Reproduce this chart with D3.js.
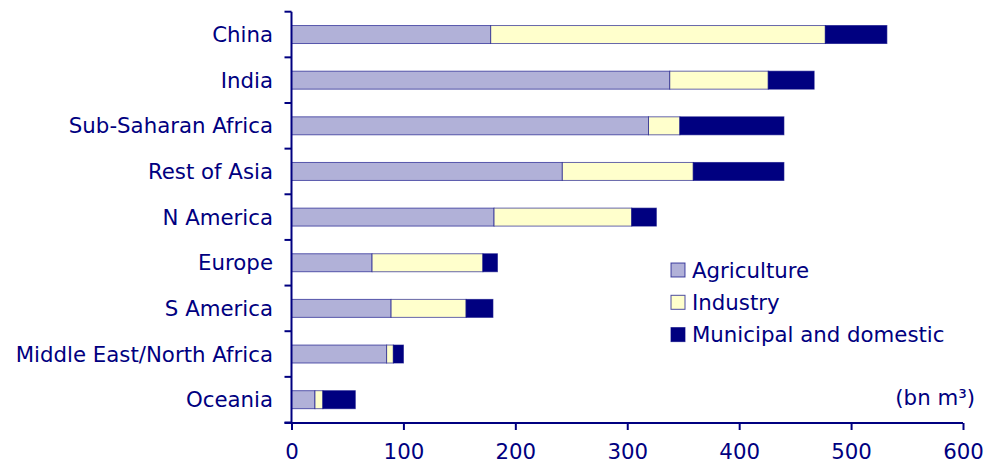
<!DOCTYPE html>
<html>
<head>
<meta charset="utf-8">
<script src="https://cdn.jsdelivr.net/npm/d3@7"></script>
<style>
  html, body { margin: 0; padding: 0; background: #fff; }
  svg text { font-family: "DejaVu Sans", Verdana, sans-serif; fill: #000080; }
</style>
</head>
<body>
<svg id="chart" width="995" height="465"></svg>
<script>
// Water withdrawals by region and sector (bn m³)
const regions = ["China", "India", "Sub-Saharan Africa", "Rest of Asia", "N America",
                 "Europe", "S America", "Middle East/North Africa", "Oceania"];
const agriculture = [178, 338, 319, 242, 181, 72, 89, 85, 21];
const industry    = [299,  88,  28, 117, 123, 99, 67,  6,  7];
const municipal   = [ 55,  41,  93,  81,  22, 13, 24,  9, 29];
const seriesNames = ["Agriculture", "Industry", "Municipal and domestic"];
const seriesColors = ["#b1b1d8", "#ffffcc", "#000080"];
const xTicks = [0, 100, 200, 300, 400, 500, 600];
const unitLabel = "(bn m³)";

const svg = d3.select("#chart");
const navy = "#000080";
const fontSize = 21.3;

const x = d3.scaleLinear().domain([0, 600]).range([291.5, 963]);
const y = d3.scaleBand().domain(regions).range([11.7, 422.5])
  .paddingInner(0.606).paddingOuter(0.303);

const rows = regions.map((r, i) => ({
  region: r,
  Agriculture: agriculture[i],
  Industry: industry[i],
  "Municipal and domestic": municipal[i]
}));
const stacked = d3.stack().keys(seriesNames)(rows);

// stacked bars
svg.append("g").selectAll("g")
  .data(stacked)
  .join("g")
  .attr("fill", (d, i) => seriesColors[i])
  .selectAll("rect")
  .data(d => d)
  .join("rect")
  .attr("x", d => x(d[0]))
  .attr("y", d => y(d.data.region))
  .attr("width", d => x(d[1]) - x(d[0]))
  .attr("height", y.bandwidth())
  .attr("stroke", navy)
  .attr("stroke-opacity", 0.6)
  .attr("stroke-width", 1);

// y axis: line, boundary ticks, labels
const yAxis = svg.append("g");
const step = y.step();
const y0 = y.range()[0];
yAxis.append("line")
  .attr("x1", x(0)).attr("x2", x(0))
  .attr("y1", y0).attr("y2", y.range()[1])
  .attr("stroke", navy).attr("stroke-width", 2);
yAxis.selectAll("line.tick")
  .data(d3.range(regions.length + 1))
  .join("line")
  .attr("class", "tick")
  .attr("x1", x(0) - 7).attr("x2", x(0))
  .attr("y1", i => y0 + i * step).attr("y2", i => y0 + i * step)
  .attr("stroke", navy).attr("stroke-width", 2);
yAxis.selectAll("text")
  .data(regions)
  .join("text")
  .attr("x", 273)
  .attr("y", d => y(d) + y.bandwidth() / 2)
  .attr("dy", "0.36em")
  .attr("text-anchor", "end")
  .attr("font-size", fontSize)
  .text(d => d);

// x axis
const xAxis = svg.append("g").attr("transform", "translate(0,423)");
xAxis.call(d3.axisBottom(x).tickValues(xTicks).tickSize(7).tickSizeOuter(0).tickPadding(14))
  .call(g => g.select(".domain").remove())
  .call(g => g.selectAll(".tick line").attr("stroke", navy).attr("stroke-width", 2))
  .call(g => g.selectAll(".tick text").attr("font-size", fontSize).attr("fill", navy)
    .style("font-family", "'DejaVu Sans', Verdana, sans-serif"));
xAxis.append("line")
  .attr("x1", x(0) - 7).attr("x2", x(600))
  .attr("stroke", navy).attr("stroke-width", 2);

// legend
const legend = svg.append("g").attr("transform", "translate(671,263)");
const li = legend.selectAll("g")
  .data(seriesNames)
  .join("g")
  .attr("transform", (d, i) => `translate(0,${i * 32.3})`);
li.append("rect")
  .attr("width", 14).attr("height", 14)
  .attr("fill", (d, i) => seriesColors[i])
  .attr("stroke", navy).attr("stroke-opacity", 0.7).attr("stroke-width", 1);
li.append("text")
  .attr("x", 21).attr("y", 7).attr("dy", "0.36em")
  .attr("font-size", fontSize)
  .text(d => d);

// unit label
svg.append("text")
  .attr("x", 975).attr("y", 405)
  .attr("text-anchor", "end")
  .attr("font-size", fontSize)
  .text(unitLabel);
</script>
</body>
</html>
